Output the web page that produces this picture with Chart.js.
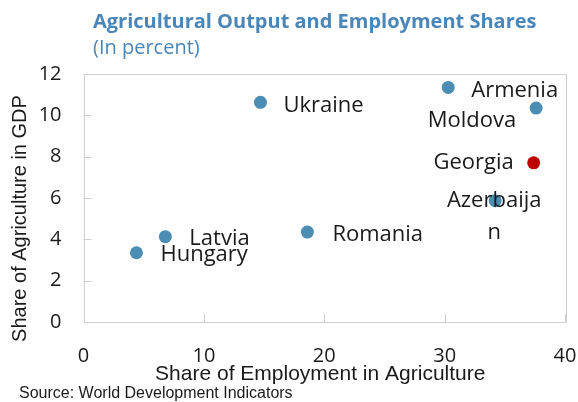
<!DOCTYPE html>
<html>
<head>
<meta charset="utf-8">
<script src="https://cdn.jsdelivr.net/npm/chart.js@4"></script>
<style>
  html, body { margin: 0; padding: 0; background: #fff; }
  #wrap { width: 578px; height: 402px; }
</style>
</head>
<body>
<div id="wrap"><canvas id="chart" width="578" height="402"></canvas></div>
<script>
// Chart data
const countries = ['Hungary', 'Latvia', 'Romania', 'Ukraine', 'Armenia', 'Moldova', 'Azerbaijan', 'Georgia'];
const pointLabels = [['Hungary'], ['Latvia'], ['Romania'], ['Ukraine'], ['Armenia'], ['Moldova'], ['Azerbaija', 'n'], ['Georgia']];
const employmentShare = [4.4, 6.8, 18.6, 14.7, 30.3, 37.6, 34.2, 37.4];
const gdpShare = [3.35, 4.13, 4.35, 10.63, 11.35, 10.35, 5.87, 7.7];
const xTicks = [0, 10, 20, 30, 40];
const yTicks = [0, 2, 4, 6, 8, 10, 12];

const colors = {
  dot: '#4b8db3',
  highlight: '#c00000',
  title: '#4a86b8',
  frame: '#d0d0d0',
  text: '#1a1a1a'
};

const labelFont = '22px "Open Sans"';
const tickFont = { family: 'Open Sans', size: 20 };

// where each label sits relative to its dot: [dx, dy, align]
const labelPlacement = {
  Hungary: [24, 2, 'left'],
  Latvia: [24, 2, 'left'],
  Romania: [25, 3, 'left'],
  Ukraine: [23, 3, 'left'],
  Armenia: [23, 3, 'left'],
  Moldova: [-20, 13, 'right'],
  Azerbaijan: [-1, 0, 'center'],
  Georgia: [-20, 0, 'right']
};

const points = countries.map((c, i) => ({ x: employmentShare[i], y: gdpShare[i] }));

const decorPlugin = {
  id: 'decor',
  beforeDatasetsDraw(chart) {
    const { ctx, chartArea: a, scales } = chart;
    ctx.save();
    ctx.strokeStyle = colors.frame;
    ctx.lineWidth = 1;
    ctx.strokeRect(Math.round(a.left) + 0.5, Math.round(a.top) + 0.5,
      Math.round(a.right - a.left), Math.round(a.bottom - a.top));
    // inward tick marks
    ctx.beginPath();
    yTicks.forEach(v => {
      const y = Math.round(scales.y.getPixelForValue(v)) + 0.5;
      ctx.moveTo(a.left, y);
      ctx.lineTo(a.left + 8, y);
    });
    xTicks.forEach(v => {
      const x = Math.round(scales.x.getPixelForValue(v)) + 0.5;
      ctx.moveTo(x, a.bottom);
      ctx.lineTo(x, a.bottom - 8);
    });
    ctx.stroke();
    ctx.restore();
  },
  afterDatasetsDraw(chart) {
    const { ctx, chartArea: a } = chart;
    const meta = chart.getDatasetMeta(0);
    ctx.save();
    ctx.fillStyle = colors.text;
    ctx.font = labelFont;
    ctx.textBaseline = 'middle';
    meta.data.forEach((pt, i) => {
      const [dx, dy, align] = labelPlacement[countries[i]];
      ctx.textAlign = align;
      pointLabels[i].forEach((line, j) => {
        ctx.fillText(line, pt.x + dx, pt.y + dy + j * 32);
      });
    });

    // titles
    ctx.textAlign = 'left';
    ctx.fillStyle = colors.title;
    ctx.font = 'bold 20px "Open Sans"';
    ctx.fillText('Agricultural Output and Employment Shares', 93, 22);
    ctx.font = '20px "Open Sans"';
    ctx.fillText('(In percent)', 93, 48);

    // axis titles
    ctx.fillStyle = colors.text;
    ctx.textAlign = 'center';
    ctx.font = '21px "Liberation Sans"';
    ctx.fillText('Share of Employment in Agriculture', (a.left + a.right) / 2 - 4, 374);
    ctx.save();
    ctx.translate(20, 218.5);
    ctx.rotate(-Math.PI / 2);
    ctx.font = '20px "Liberation Sans"';
    ctx.fillText('Share of Agriculture in GDP', 0, 0);
    ctx.restore();

    ctx.textAlign = 'left';
    ctx.font = '16px "Liberation Sans"';
    ctx.fillText('Source: World Development Indicators', 19, 394);
    ctx.restore();
  }
};

new Chart(document.getElementById('chart'), {
  type: 'scatter',
  data: {
    datasets: [{
      label: 'Countries',
      data: points,
      pointRadius: 6.5,
      pointHoverRadius: 6.5,
      pointBorderWidth: 0,
      pointBackgroundColor: countries.map(c => c === 'Georgia' ? colors.highlight : colors.dot)
    }]
  },
  options: {
    responsive: false,
    animation: false,
    events: [],
    layout: { padding: { left: 0, right: 13, top: 74, bottom: 0 } },
    plugins: {
      legend: { display: false },
      tooltip: { enabled: false }
    },
    scales: {
      x: {
        type: 'linear',
        min: 0,
        max: 40,
        afterFit(s) { s.height = 80; s.paddingLeft = 0; s.paddingRight = 0; },
        afterBuildTicks(s) { s.ticks = xTicks.map(v => ({ value: v })); },
        grid: { display: false, drawTicks: false },
        border: { display: false },
        ticks: { color: colors.text, font: tickFont, padding: 22, maxRotation: 0 }
      },
      y: {
        type: 'linear',
        min: 0,
        max: 12,
        afterFit(s) { s.width = 83.5; s.paddingTop = 0; s.paddingBottom = 0; },
        afterBuildTicks(s) { s.ticks = yTicks.map(v => ({ value: v })); },
        grid: { display: false, drawTicks: false },
        border: { display: false },
        ticks: { color: colors.text, font: tickFont, padding: 22 }
      }
    }
  },
  plugins: [decorPlugin]
});
</script>
</body>
</html>
